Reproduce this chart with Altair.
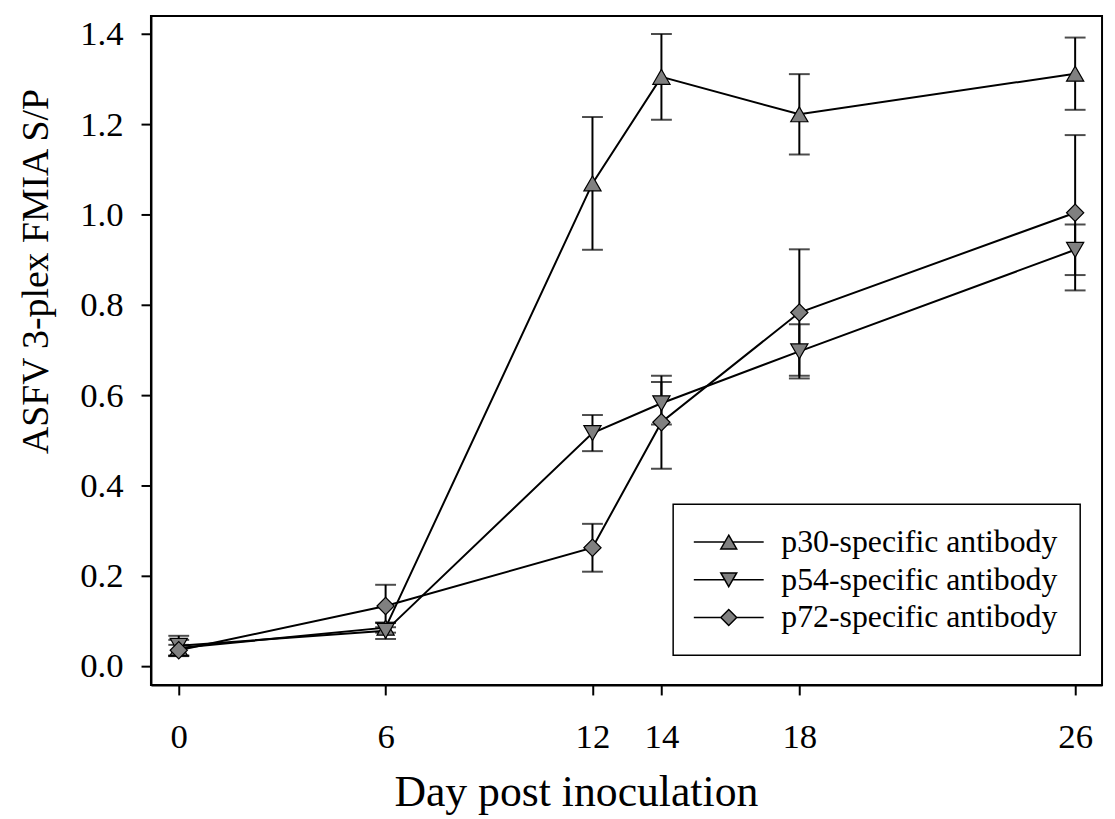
import altair as alt
import pandas as pd

days = [0, 6, 12, 14, 18, 26]
series_names = ["p30-specific antibody", "p54-specific antibody", "p72-specific antibody"]
p30 = [0.040, 0.085, 1.069, 1.305, 1.222, 1.312]
p30_err = [0.018, 0.011, 0.147, 0.095, 0.089, 0.080]
p54 = [0.045, 0.078, 0.516, 0.582, 0.697, 0.922]
p54_err = [0.022, 0.018, 0.040, 0.047, 0.060, 0.056]
p72 = [0.035, 0.133, 0.262, 0.540, 0.783, 1.004]
p72_err = [0.012, 0.047, 0.053, 0.103, 0.140, 0.172]
x_ticks = [0, 6, 12, 14, 18, 26]
y_ticks = [0.0, 0.2, 0.4, 0.6, 0.8, 1.0, 1.2, 1.4]

rows = []
for name, vals, errs in zip(series_names, [p30, p54, p72], [p30_err, p54_err, p72_err]):
    for d, v, e in zip(days, vals, errs):
        rows.append({"series": name, "day": d, "value": v, "lo": v - e, "hi": v + e})
df = pd.DataFrame(rows)

FONT = "Liberation Serif"

xs = alt.Scale(domain=[-0.806, 26.78], nice=False, zero=False)
ys = alt.Scale(domain=[-0.042, 1.44], nice=False, zero=False)

x_enc = alt.X("day:Q", scale=xs, axis=alt.Axis(
    values=x_ticks, title="Day post inoculation", labelPadding=25,
    titleX=428, titleY=121, titleBaseline="alphabetic", titleAlign="center",
    titleFontSize=44, titleFontWeight="normal"))
y_axis = alt.Axis(values=y_ticks, format=".1f", title="ASFV 3-plex FMIA S/P",
                  labelPadding=18, titleX=-104, titleY=257, titleAngle=-90,
                  titleBaseline="alphabetic", titleAlign="center",
                  titleFontSize=38, titleFontWeight="normal")

base = alt.Chart(df)

rules = base.mark_rule(color="black", strokeWidth=2).encode(
    x=x_enc, y=alt.Y("lo:Q", scale=ys, axis=y_axis), y2="hi:Q")
caps_lo = base.mark_tick(orient="horizontal", size=21, thickness=2, color="black").encode(
    x="day:Q", y="lo:Q")
caps_hi = base.mark_tick(orient="horizontal", size=21, thickness=2, color="black").encode(
    x="day:Q", y="hi:Q")
lines = base.mark_line(color="black", strokeWidth=2).encode(
    x="day:Q", y="value:Q", detail="series:N")
points = base.mark_point(filled=True, size=300, opacity=1).encode(
    x="day:Q", y="value:Q",
    fill=alt.value("#808080"), stroke=alt.value("black"), strokeWidth=alt.value(1.2),
    shape=alt.Shape("series:N", legend=None, scale=alt.Scale(
        domain=series_names, range=["triangle-up", "triangle-down", "diamond"])))

legend_paths = [
    "M-4.4,0L-0.5,0M0.5,0L4.4,0M0,-0.866L1,0.866L-1,0.866Z",
    "M-4.4,0L-0.5,0M0.5,0L4.4,0M0,0.866L1,-0.866L-1,-0.866Z",
    "M-4.4,0L-1,0M1,0L4.4,0M-1,0L0,-1L1,0L0,1Z",
]
legend_layer = base.mark_point(filled=True, size=256, opacity=0).encode(
    x="day:Q", y="value:Q",
    fill=alt.value("#808080"), stroke=alt.value("black"), strokeWidth=alt.value(1.4),
    shape=alt.Shape("series:N", scale=alt.Scale(domain=series_names, range=legend_paths),
                    legend=alt.Legend(
                        title=None, orient="none", legendX=526, legendY=492,
                        symbolSize=256, symbolOffset=18,
                        labelFont=FONT, labelFontSize=32, labelColor="black",
                        labelLimit=0, labelOffset=37, rowPadding=6, padding=22,
                        strokeColor="black")))

chart = alt.layer(rules, caps_lo, caps_hi, lines, points, legend_layer).resolve_scale(
    shape="independent"
).properties(
    width=958, height=674, autosize="none",
    padding={"left": 144, "top": 5, "right": 5, "bottom": 132},
).configure_view(
    stroke="black", strokeWidth=2
).configure_axis(
    grid=False, domainColor="black", domainWidth=2, tickColor="black", tickWidth=2,
    tickSize=10, labelFont=FONT, labelFontSize=35, labelColor="black",
    titleFont=FONT, titleColor="black"
).configure_legend(
    strokeWidth=1.5
)

chart.save("out.html", embed_options={"renderer": "svg", "actions": False})
